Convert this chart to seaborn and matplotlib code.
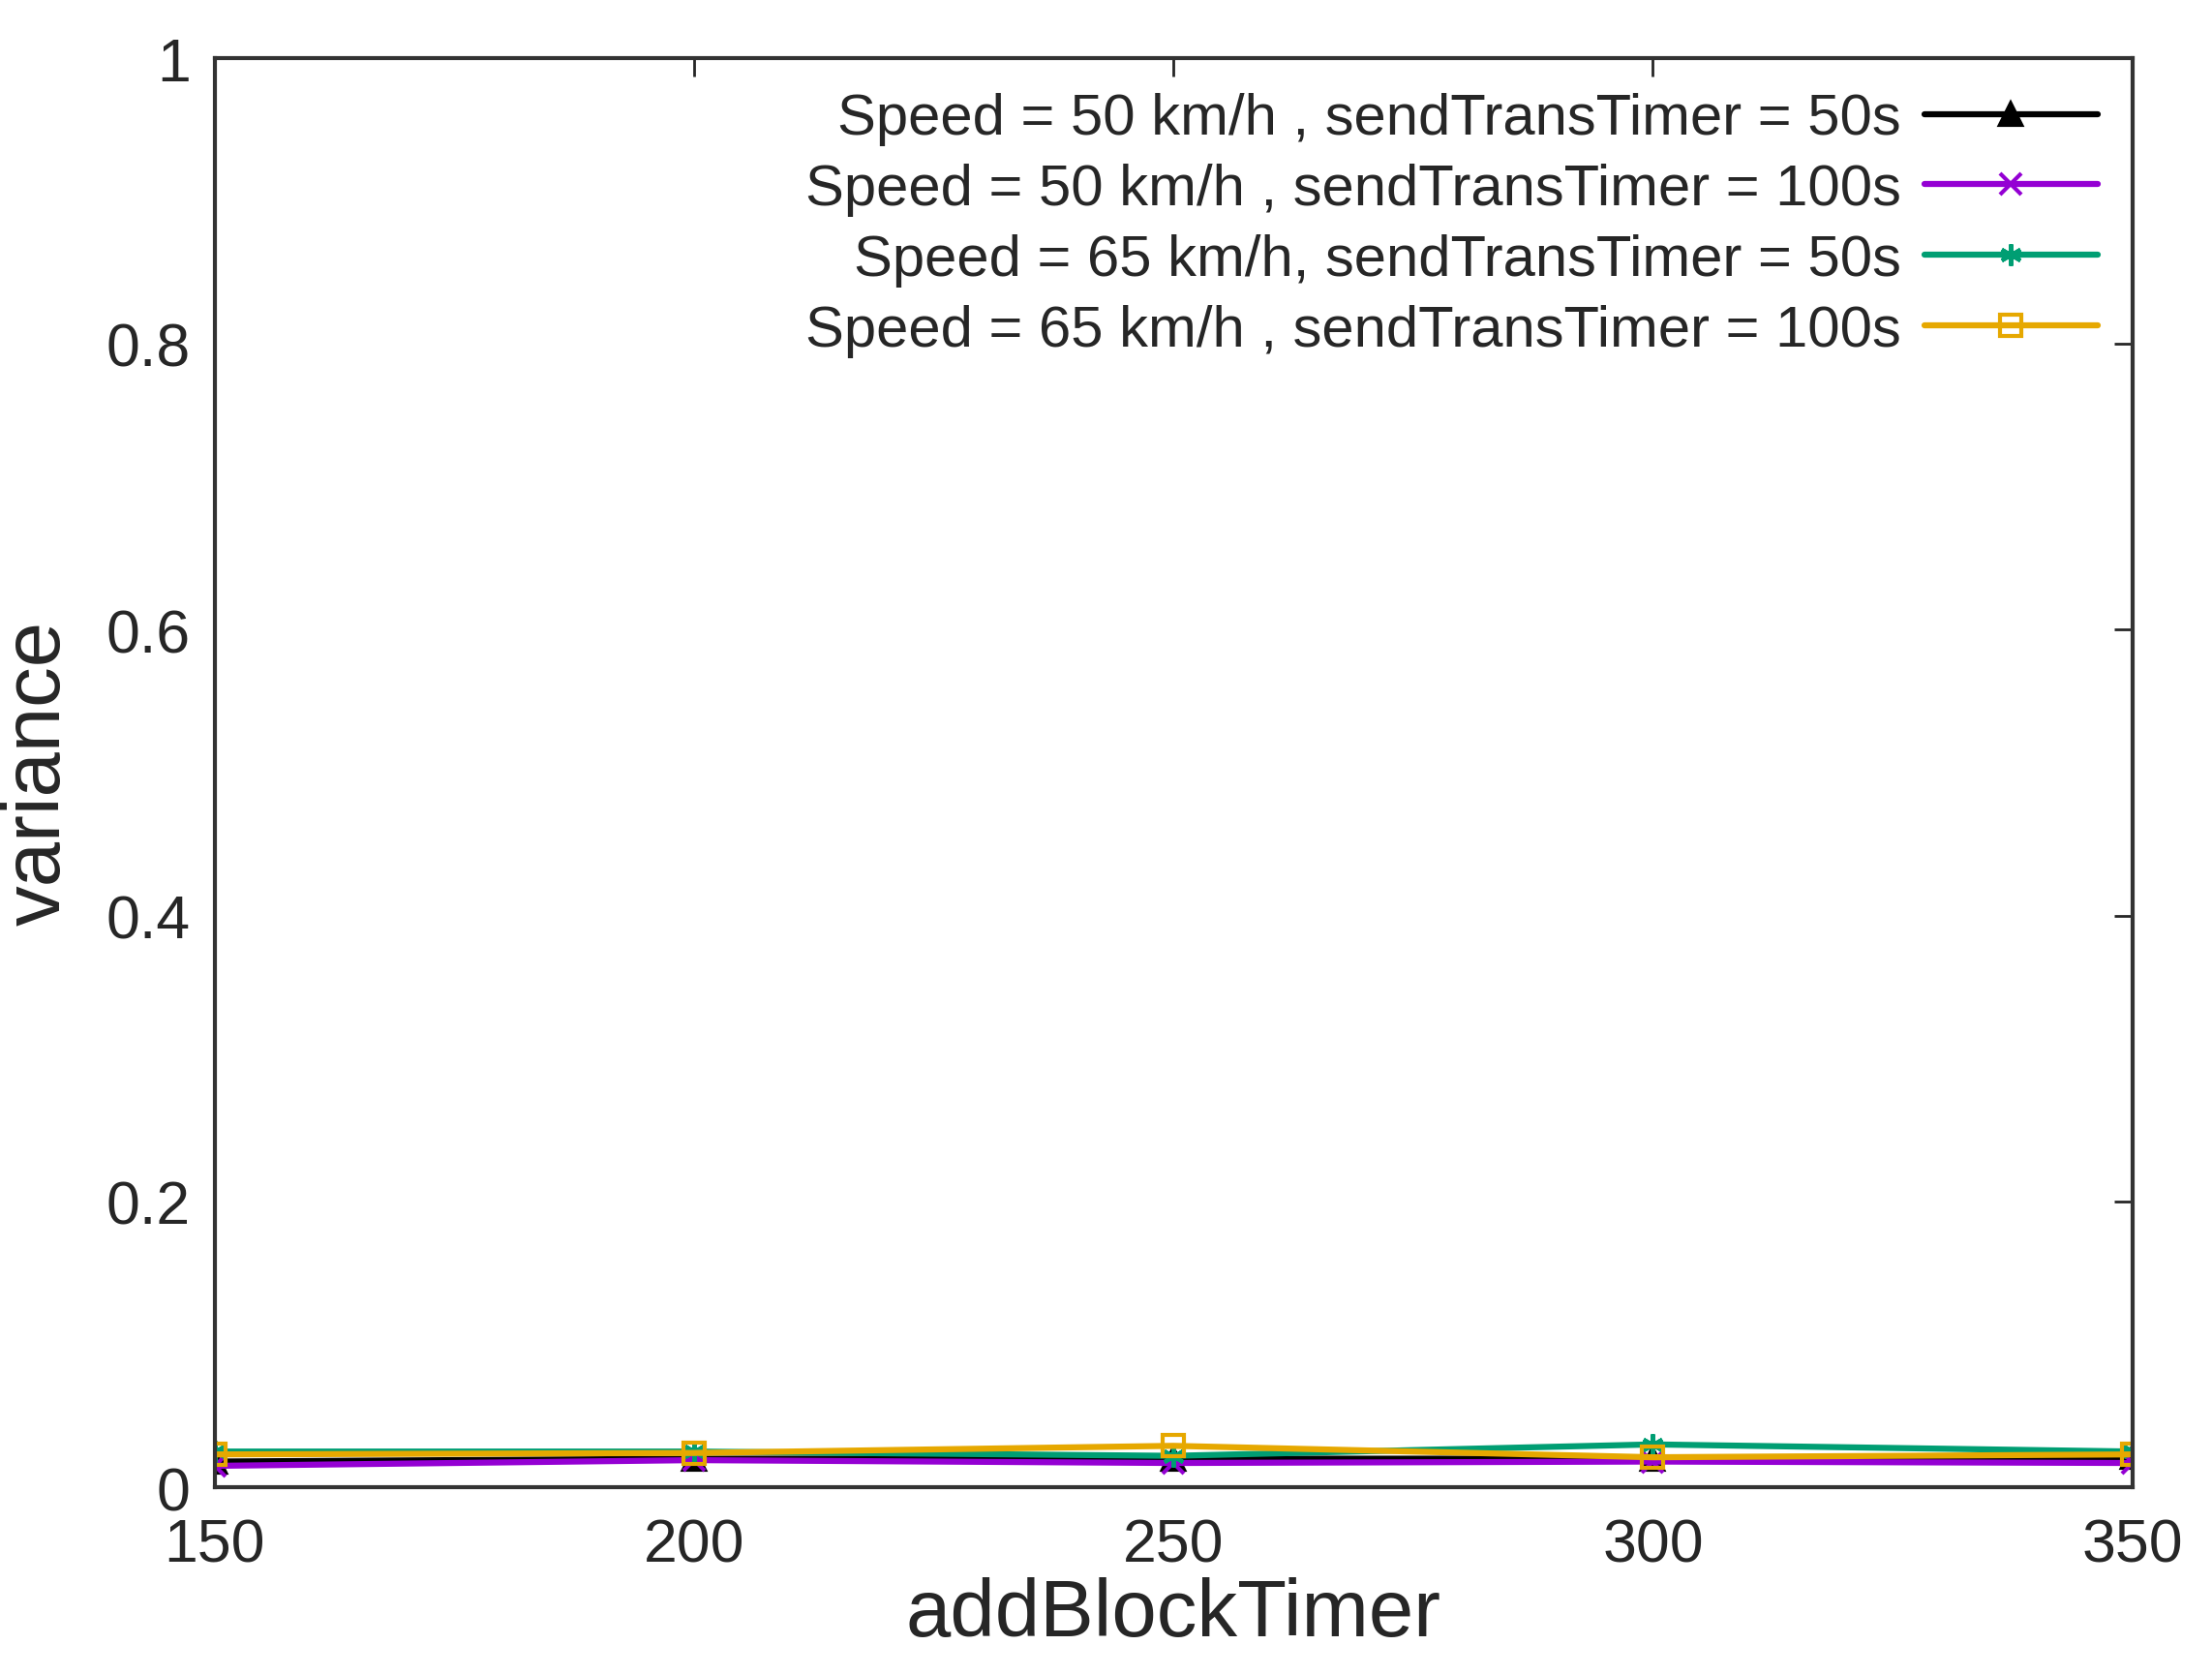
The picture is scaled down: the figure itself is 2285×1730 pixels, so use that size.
import matplotlib
matplotlib.use("Agg")
import matplotlib.pyplot as plt
import seaborn as sns

x_vals = [150, 200, 250, 300, 350]
s50_t50 = [0.018, 0.020, 0.020, 0.020, 0.021]
s50_t100 = [0.015, 0.019, 0.017, 0.018, 0.017]
s65_t50 = [0.025, 0.025, 0.022, 0.030, 0.025]
s65_t100 = [0.023, 0.024, 0.029, 0.021, 0.023]

labels = [
    "Speed = 50 km/h , sendTransTimer = 50s",
    "Speed = 50 km/h , sendTransTimer = 100s",
    "Speed = 65 km/h, sendTransTimer = 50s",
    "Speed = 65 km/h , sendTransTimer = 100s",
]
series = [s50_t50, s50_t100, s65_t50, s65_t100]
colors = ["#000000", "#9400D3", "#009E73", "#E6A800"]
markers = ["^", "x", (6, 2, 0), "s"]

sns.set_theme(style="white")
plt.rcParams["font.family"] = ["Liberation Sans", "DejaVu Sans"]

fig = plt.figure(figsize=(22.85, 17.31), dpi=100)
ax = fig.add_axes([0.097, 0.112, 0.867, 0.853])

for vals, lab, col, mk in zip(series, labels, colors, markers):
    sns.lineplot(x=x_vals, y=vals, ax=ax, color=col, marker=mk, label=lab,
                 linewidth=4.5, markersize=16, markeredgewidth=3,
                 markerfacecolor="none" if mk == "s" else col,
                 markeredgecolor=col)

ax.set_xlim(150, 350)
ax.set_ylim(0, 1)
ax.set_xticks(x_vals)
ax.set_yticks([0, 0.2, 0.4, 0.6, 0.8, 1])
ax.set_yticklabels(["0", "0.2", "0.4", "0.6", "0.8", "1"])
ax.tick_params(direction="in", length=14, width=2, labelsize=45,
               top=True, right=True)
ax.tick_params(axis="x", pad=22)
ax.tick_params(axis="y", pad=18)
for sp in ax.spines.values():
    sp.set_color("#333333")
    sp.set_linewidth(3)
ax.set_xlabel("addBlockTimer", fontsize=60, labelpad=2)
ax.set_ylabel("variance", fontsize=60, labelpad=22)

leg = ax.legend(loc="upper right", frameon=False, fontsize=43,
                markerfirst=False, handlelength=3, borderaxespad=0.2,
                labelspacing=0.3, handletextpad=0.4)

fig.savefig("out.png", dpi=100)
